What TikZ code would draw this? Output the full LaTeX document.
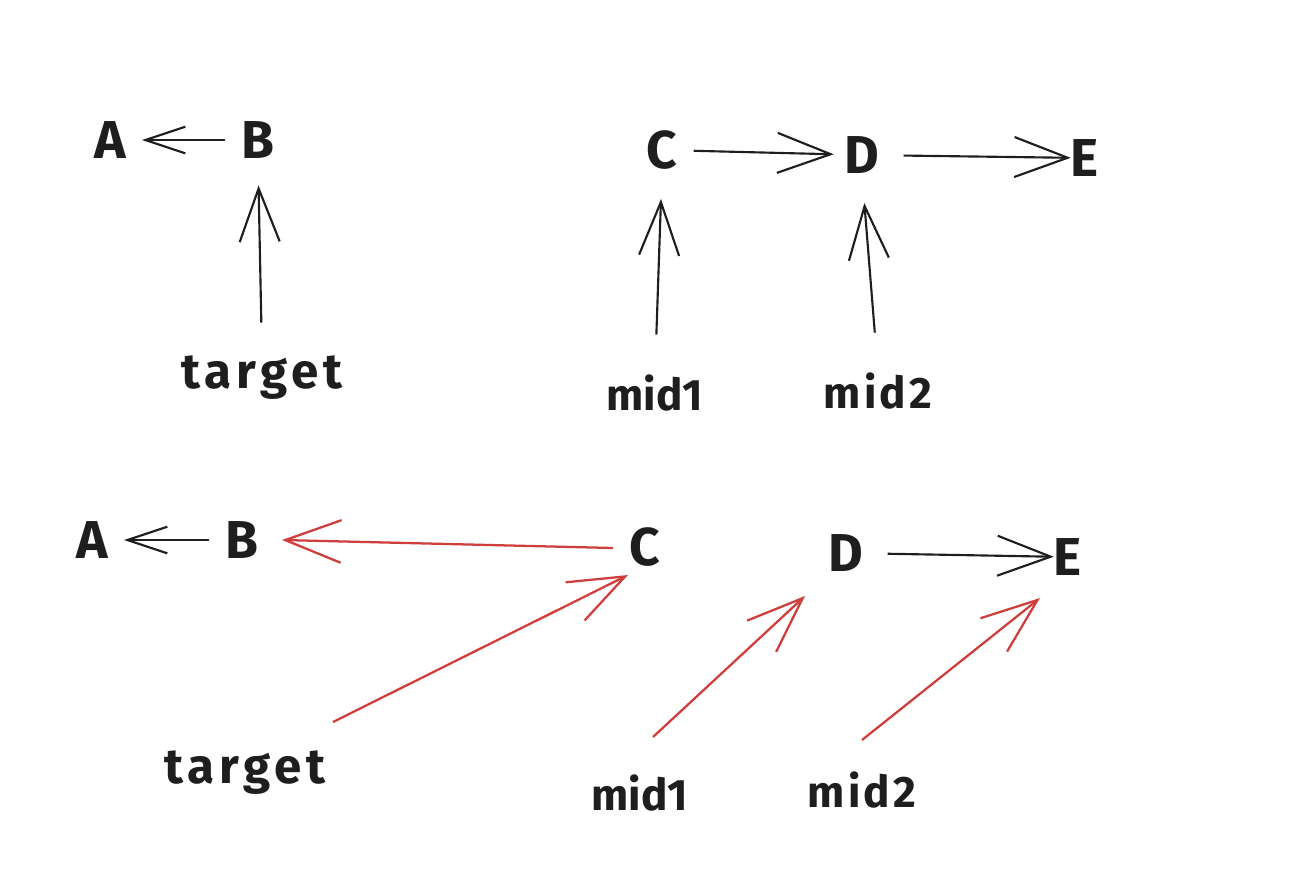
\documentclass[tikz,border=0pt]{standalone}
\usepackage{fontspec}
\setmainfont{Fira Sans}
\usetikzlibrary{arrows.meta,calc}
\definecolor{ink}{RGB}{30,30,30}
\definecolor{redink}{RGB}{208,62,60}
\begin{document}
\begin{tikzpicture}[x=0.75pt,y=-0.75pt,
  lbl/.style={inner sep=0pt,text=ink,font=\fontsize{40}{44}\selectfont\bfseries},
  sml/.style={inner sep=0pt,text=ink,font=\fontsize{33}{38}\selectfont\bfseries},
  tgt/.style={inner sep=0pt,text=ink,font=\fontsize{37}{42}\selectfont\bfseries\addfontfeature{LetterSpace=10}},
  arr/.style={draw=ink,line width=1.6pt,-{Straight Barb[length=40pt,width=30pt,line width=1.6pt]}},
  smallhead/.style={-{Straight Barb[length=30pt,width=20pt,line width=1.6pt]}},
  rarr/.style={draw=redink,line width=1.7pt,-{Straight Barb[length=42pt,width=32pt,line width=1.7pt]}}]
\useasboundingbox (0,0) rectangle (1298,892);
% top row
\node[lbl] (tA) at (110,140) {A};
\node[lbl] (tB) at (258,140) {B};
\node[lbl] (tC) at (662,150) {C};
\node[lbl] (tD) at (862,155) {D};
\node[lbl] (tE) at (1085,158) {E};
\node[tgt] (tT) at (262,378) {target};
\node[sml] (tM1) at (655,393) {mid1};
\node[sml,font=\fontsize{33}{38}\selectfont\bfseries\addfontfeature{LetterSpace=8}] (tM2) at (878,391) {mid2};
\draw[arr,smallhead,shorten <=12pt,shorten >=12pt] (tB) -- (tA);
\draw[arr,shorten <=25pt,shorten >=20pt] (tT.north) -- (tB.south);
\draw[arr,shorten <=12pt,shorten >=8pt] (tC) -- (tD);
\draw[arr,shorten <=18pt,shorten >=0pt] (tD) -- (tE);
\draw[arr,shorten <=30pt,shorten >=22pt] (tM1.north) -- (tC.south);
\draw[arr,shorten <=30pt,shorten >=22pt] (tM2.north) -- (tD.south);
% bottom row
\node[lbl] (bA) at (92,540) {A};
\node[lbl] (bB) at (242,540) {B};
\node[lbl] (bC) at (645,547) {C};
\node[lbl] (bD) at (846,553) {D};
\node[lbl] (bE) at (1068,557) {E};
\node[tgt] (bT) at (245,773) {target};
\node[sml] (bM1) at (640,793) {mid1};
\node[sml,font=\fontsize{33}{38}\selectfont\bfseries\addfontfeature{LetterSpace=8}] (bM2) at (862,790) {mid2};
\draw[arr,smallhead,shorten <=12pt,shorten >=12pt] (bB) -- (bA);
\draw[arr,shorten <=18pt,shorten >=0pt] (bD) -- (bE);
\draw[rarr] ($(bC)+(-32,1)$) -- ($(bB)+(40,0)$);
\draw[rarr] ($(bT)+(88,-51)$) -- ($(bC)+(-17,28)$);
\draw[rarr] ($(bM1)+(13,-56)$) -- ($(bD)+(-41,43)$);
\draw[rarr] ($(bM2)+(0,-50)$) -- ($(bE)+(-28,41)$);
\end{tikzpicture}
\end{document}
